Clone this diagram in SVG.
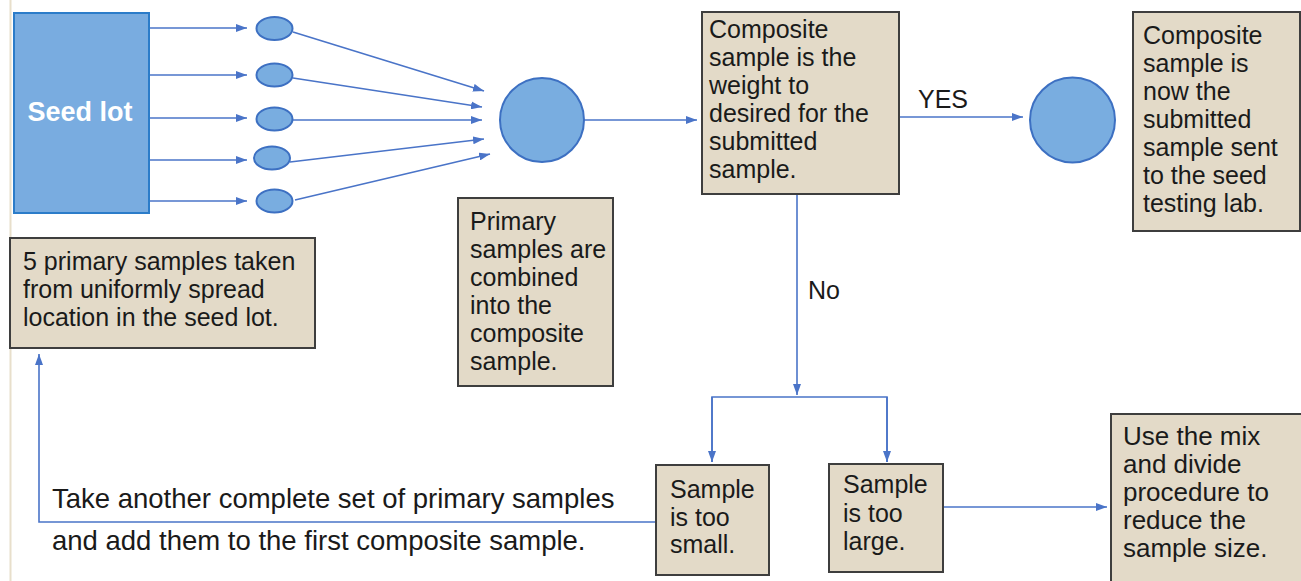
<svg xmlns="http://www.w3.org/2000/svg" width="1301" height="581" viewBox="0 0 1301 581">
<style>
.box{fill:#e3dac8;stroke:#3e3e3e;stroke-width:2}
.dot{fill:#79ade0;stroke:#3d70c2;stroke-width:2}
.t{font-family:"Liberation Sans",Arial,sans-serif;font-size:25px;fill:#1a1a1a}
.c{fill:none;stroke:#4a74c8;stroke-width:1.6}
</style>
<defs>
<marker id="ah" markerUnits="userSpaceOnUse" markerWidth="12" markerHeight="8" refX="11" refY="4" orient="auto">
<path d="M0,0 L11,4 L0,8 z" fill="#4a74c8"/>
</marker>
</defs>
<rect width="1301" height="581" fill="#ffffff"/>
<line x1="10.5" y1="0" x2="10.5" y2="581" stroke="#e8dfcb" stroke-width="2"/>

<g id="connectors">
<line class="c" x1="149" y1="28" x2="247" y2="28" marker-end="url(#ah)"/>
<line class="c" x1="149" y1="75" x2="247" y2="75" marker-end="url(#ah)"/>
<line class="c" x1="149" y1="118" x2="247" y2="118" marker-end="url(#ah)"/>
<line class="c" x1="149" y1="160" x2="247" y2="160" marker-end="url(#ah)"/>
<line class="c" x1="149" y1="201" x2="247" y2="201" marker-end="url(#ah)"/>
<line class="c" x1="293" y1="32" x2="484" y2="91" marker-end="url(#ah)"/>
<line class="c" x1="293" y1="78" x2="482" y2="107" marker-end="url(#ah)"/>
<line class="c" x1="293" y1="120" x2="482" y2="120" marker-end="url(#ah)"/>
<line class="c" x1="290" y1="162" x2="484" y2="139" marker-end="url(#ah)"/>
<line class="c" x1="295" y1="200" x2="490" y2="154" marker-end="url(#ah)"/>
<line class="c" x1="584" y1="120" x2="697" y2="120" marker-end="url(#ah)"/>
<line class="c" x1="899" y1="117" x2="1023" y2="117" marker-end="url(#ah)"/>
<line class="c" x1="797" y1="194" x2="797" y2="395" marker-end="url(#ah)"/>
<polyline class="c" points="712,462 712,397 887,397 887,462"/>
<line class="c" x1="712" y1="397" x2="712" y2="462" marker-end="url(#ah)"/>
<line class="c" x1="887" y1="397" x2="887" y2="462" marker-end="url(#ah)"/>
<polyline class="c" points="656,522 39,522 39,354" marker-end="url(#ah)"/>
<line class="c" x1="943" y1="507" x2="1107" y2="507" marker-end="url(#ah)"/>
<text class="t" x="918" y="108">YES</text>
<text class="t" x="808" y="299">No</text>
</g>

<g id="seed-lot">
<rect x="14" y="13" width="135" height="200" fill="#79ace0" stroke="#2b7cc9" stroke-width="2"/>
<text x="80" y="121" text-anchor="middle" font-family="Liberation Sans,Arial,sans-serif" font-size="27" font-weight="bold" fill="#ffffff">Seed lot</text>
</g>

<g id="primary-1"><ellipse class="dot" cx="274.5" cy="28.5" rx="18" ry="11.5"/></g>
<g id="primary-2"><ellipse class="dot" cx="274.5" cy="75" rx="18" ry="11.5"/></g>
<g id="primary-3"><ellipse class="dot" cx="274.5" cy="119" rx="18" ry="11.5"/></g>
<g id="primary-4"><ellipse class="dot" cx="272" cy="158" rx="18" ry="11.5"/></g>
<g id="primary-5"><ellipse class="dot" cx="274.5" cy="201" rx="18" ry="11.5"/></g>

<g id="composite-circle"><circle class="dot" cx="542" cy="120" r="42"/></g>
<g id="submitted-circle"><circle class="dot" cx="1072.5" cy="120" r="42.5"/></g>

<g id="note-primary">
<rect class="box" x="10" y="238" width="305" height="110"/>
<text class="t" x="23"><tspan x="23" y="270">5 primary samples taken</tspan><tspan x="23" y="298">from uniformly spread</tspan><tspan x="23" y="326">location in the seed lot.</tspan></text>
</g>

<g id="note-combined">
<rect class="box" x="458" y="198" width="155" height="188"/>
<text class="t"><tspan x="470" y="230">Primary</tspan><tspan x="470" y="258">samples are</tspan><tspan x="470" y="286">combined</tspan><tspan x="470" y="314">into the</tspan><tspan x="470" y="342">composite</tspan><tspan x="470" y="370">sample.</tspan></text>
</g>

<g id="decision">
<rect class="box" x="702" y="12" width="197" height="182"/>
<text class="t"><tspan x="709" y="38">Composite</tspan><tspan x="709" y="66">sample is the</tspan><tspan x="709" y="94">weight to</tspan><tspan x="709" y="122">desired for the</tspan><tspan x="709" y="150">submitted</tspan><tspan x="709" y="178">sample.</tspan></text>
</g>

<g id="note-submitted">
<rect class="box" x="1133" y="12" width="167" height="219"/>
<text class="t"><tspan x="1143" y="44">Composite</tspan><tspan x="1143" y="72">sample is</tspan><tspan x="1143" y="100">now the</tspan><tspan x="1143" y="128">submitted</tspan><tspan x="1143" y="156">sample sent</tspan><tspan x="1143" y="184">to the seed</tspan><tspan x="1143" y="212">testing lab.</tspan></text>
</g>

<g id="too-small">
<rect class="box" x="656" y="465" width="113" height="110"/>
<text class="t"><tspan x="670" y="498">Sample</tspan><tspan x="670" y="526">is too</tspan><tspan x="670" y="553">small.</tspan></text>
</g>

<g id="too-large">
<rect class="box" x="829" y="464" width="114" height="108"/>
<text class="t"><tspan x="843" y="493">Sample</tspan><tspan x="843" y="522">is too</tspan><tspan x="843" y="550">large.</tspan></text>
</g>

<g id="mix-divide">
<rect class="box" x="1111" y="414" width="200" height="180"/>
<text class="t" style="font-size:26px"><tspan x="1123" y="445">Use the mix</tspan><tspan x="1123" y="473">and divide</tspan><tspan x="1123" y="501">procedure to</tspan><tspan x="1123" y="529">reduce the</tspan><tspan x="1123" y="557">sample size.</tspan></text>
</g>

<g id="repeat-note">
<text class="t" style="font-size:27.5px"><tspan x="52" y="508">Take another complete set of primary samples</tspan><tspan x="52" y="550">and add them to the first composite sample.</tspan></text>
</g>
</svg>
